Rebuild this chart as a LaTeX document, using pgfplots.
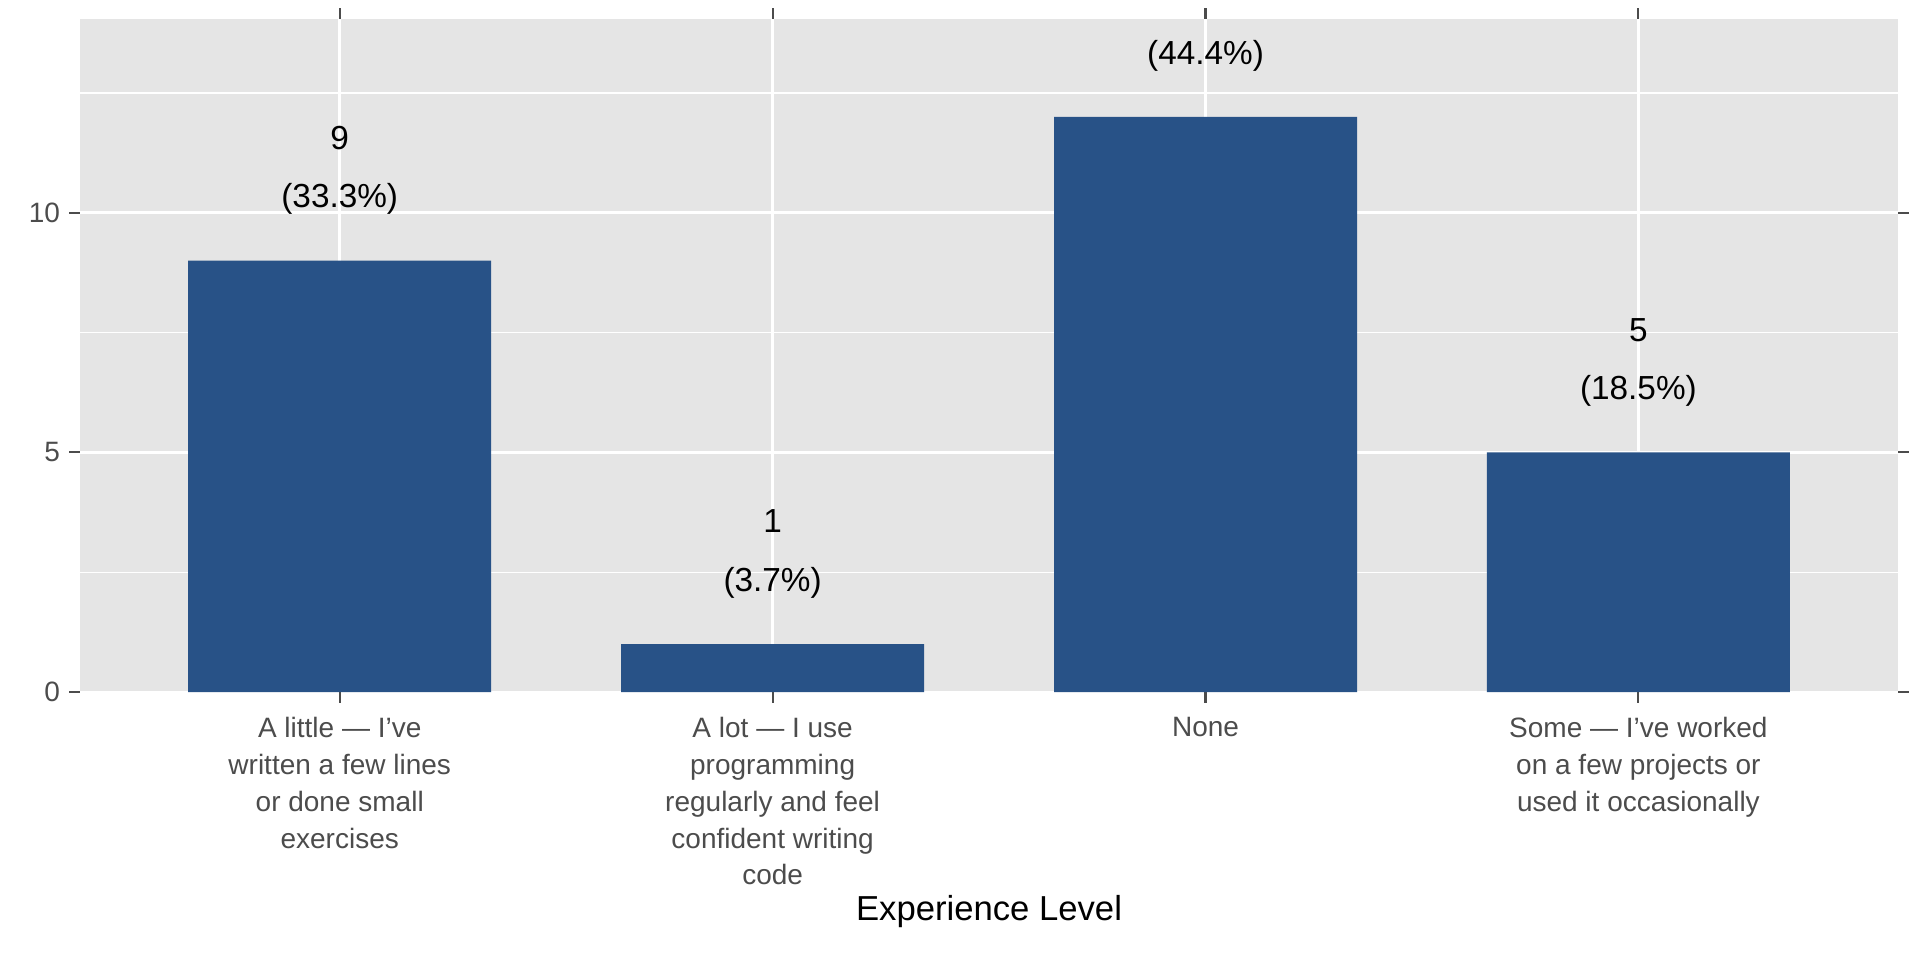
\documentclass[border=0pt]{standalone}
\usepackage{pgfplots}
\pgfplotsset{compat=1.18}
\usepackage{fontspec}
\setmainfont{Liberation Sans}
\definecolor{barblue}{HTML}{285287}
\definecolor{panel}{HTML}{E5E5E5}
\begin{document}
\begin{tikzpicture}
\begin{axis}[
  at={(0,0)}, anchor=south west,
  scale only axis, width=681.8pt, height=252.5pt,
  xmin=-0.6, xmax=3.6, ymin=0, ymax=14.05,
  axis background/.style={fill=panel},
  axis line style={draw=none},
  xtick={0,1,2,3},
  xticklabels={{A little — I’ve\\written a few lines\\or done small\\exercises},
    {A lot — I use\\programming\\regularly and feel\\confident writing\\code},
    {None},
    {Some — I’ve worked\\on a few projects or\\used it occasionally}},
  xticklabel style={align=center, font=\fontsize{10.5}{13.8}\selectfont, text=black!70, anchor=north, yshift=-2pt},
  ytick={0,5,10}, minor ytick={2.5,7.5,12.5},
  yticklabel style={font=\fontsize{10.5}{12}\selectfont, text=black!70},
  /pgf/number format/assume math mode=true,
  tick align=outside, major tick length=4pt, minor tick length=0pt,
  tick style={black!70, line width=0.8pt},
  xmajorgrids, ymajorgrids, yminorgrids,
  major grid style={white, line width=1pt},
  minor grid style={white, line width=0.5pt},
  xlabel={Experience Level},
  xlabel style={font=\fontsize{13}{15}\selectfont, at={(axis description cs:0.5,0)}, anchor=center, yshift=-82.5pt},
  axis on top=false,
]
\addplot[ybar, bar width=0.7, fill=barblue, draw=none] coordinates {(0,9) (1,1) (2,12) (3,5)};
\begin{scope}[every node/.style={font=\fontsize{12.5}{14}\selectfont}]
\node at (axis cs:0,11.56) {9};
\node at (axis cs:0,10.28) {(33.3\%)};
\node at (axis cs:1,3.56) {1};
\node at (axis cs:1,2.28) {(3.7\%)};
\node at (axis cs:2,13.28) {(44.4\%)};
\node at (axis cs:3,7.56) {5};
\node at (axis cs:3,6.28) {(18.5\%)};
\end{scope}
\end{axis}
\pgfresetboundingbox
\path (-30pt,-100.5pt) rectangle (690pt,259.5pt);
\end{tikzpicture}
\end{document}
